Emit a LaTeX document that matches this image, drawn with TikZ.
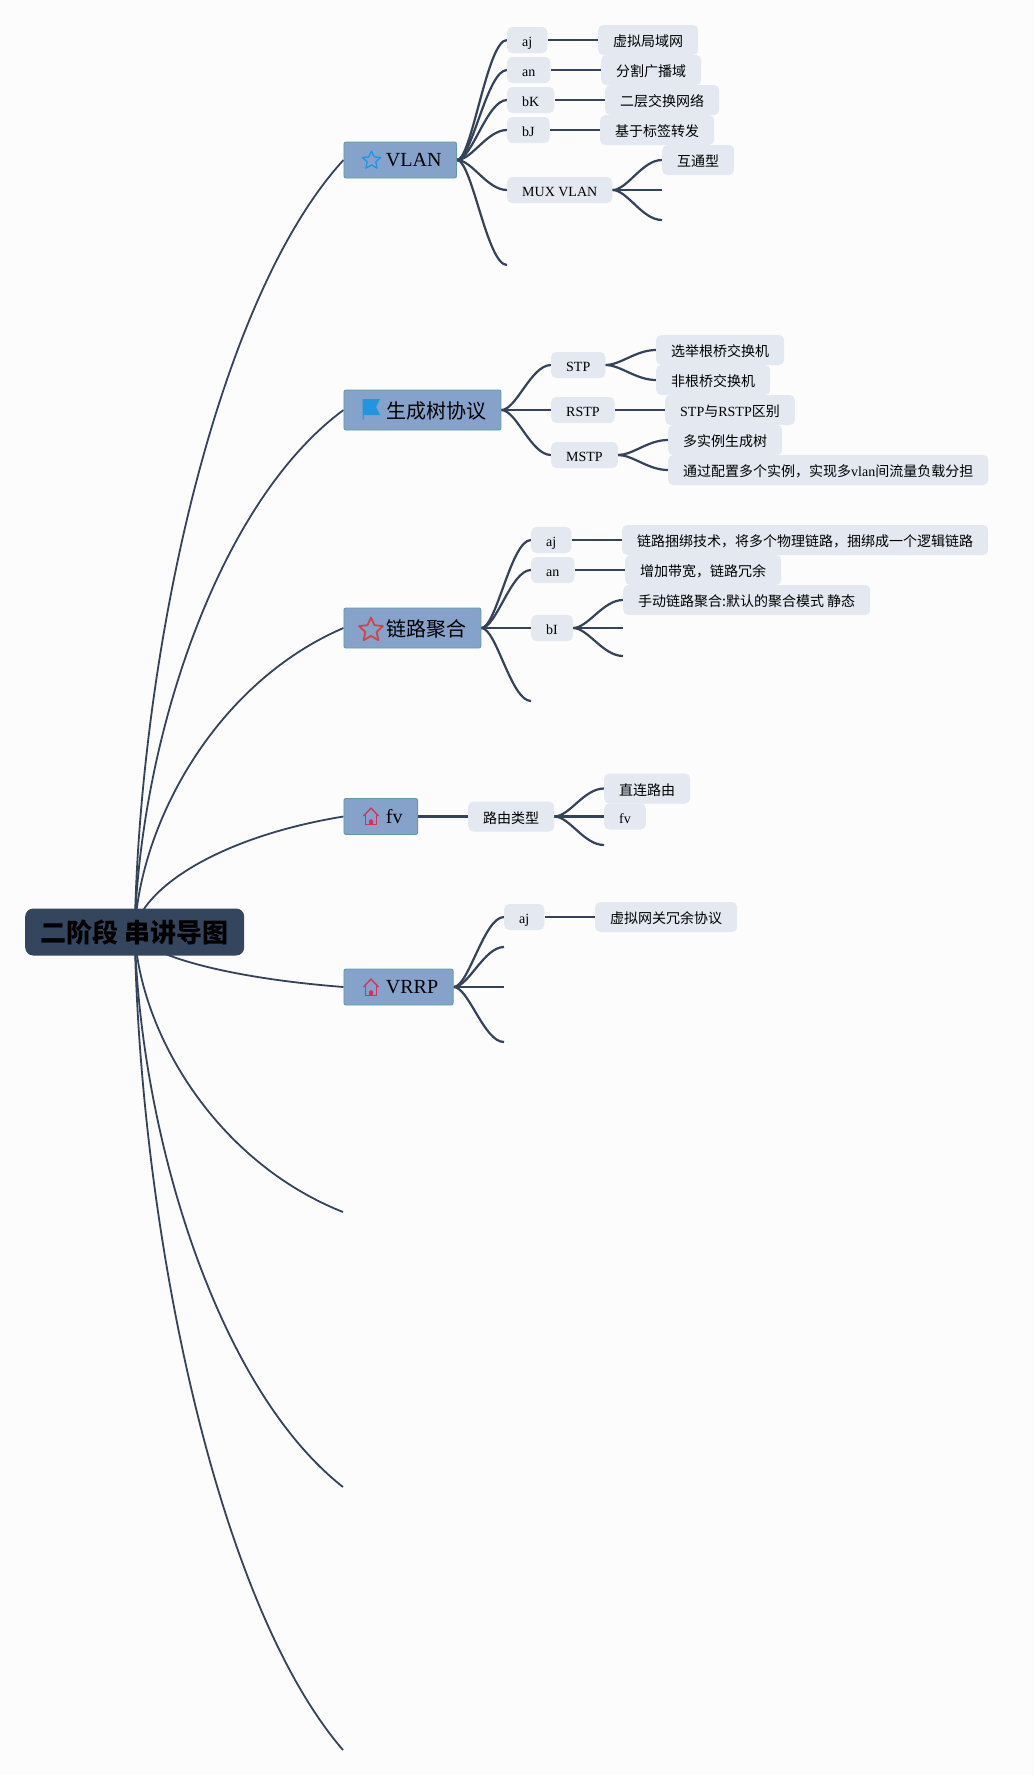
\documentclass[tikz,border=0pt]{standalone}
\usepackage{fontspec}
\setmainfont{Liberation Serif}
\newfontfamily\cjk{Noto Sans CJK SC}
\newcommand{\cn}[1]{{\cjk #1}}
\newcommand{\iconpad}{\hspace*{27pt}}
\newcommand{\cniconpad}{\hspace*{28.5pt}}
\usetikzlibrary{calc,backgrounds,shapes.geometric}
\definecolor{pagebg}{HTML}{FCFCFD}
\definecolor{rootfill}{HTML}{34465E}
\definecolor{topicfill}{HTML}{84A2CA}
\definecolor{topicedge}{HTML}{5F9EA0}
\definecolor{leaffill}{HTML}{E3E8F1}
\definecolor{linecol}{HTML}{34435A}
\definecolor{iconblue}{HTML}{1E96E0}
\definecolor{iconred}{HTML}{D9423E}
\definecolor{iconpink}{HTML}{D8305A}
\tikzset{
  rootnode/.style={fill=rootfill,rounded corners=8,inner xsep=15.5,minimum height=47,font=\cjk\bfseries\fontsize{26}{30}\selectfont,anchor=west},
  topic/.style={fill=topicfill,draw=topicedge,line width=0.9,rounded corners=2,inner xsep=15,inner ysep=0,minimum height=36,text height=15,text depth=2,font=\fontsize{20}{24}\selectfont,anchor=west},
  cntopic/.style={topic,inner xsep=14.25,minimum height=40,text height=19,text depth=2},
  leaf/.style={fill=leaffill,rounded corners=5,inner xsep=15,inner ysep=0,minimum height=30,text height=13.5,text depth=0.5,font=\fontsize{14}{17}\selectfont,anchor=west},
  tag/.style={leaf,minimum height=26},
  mainline/.style={draw=linecol,line width=1.8},
  subline/.style={draw=linecol,line width=2.2},
  bigcurve/.style={to path={let \p1=(\tikztostart),\p2=(\tikztotarget) in .. controls ({\x1+5pt},{\y1+0.36*(\y2-\y1)}) and ({\x1+0.39*(\x2-\x1)},{\y1+0.82*(\y2-\y1)}) .. (\tikztotarget)}},
  smallcurve/.style={to path={.. controls +(15,0) and +(-20,0) .. (\tikztotarget)}},
  staricon/.style={star,star points=5,star point ratio=2.1,inner sep=0,line join=round},
  homeicon/.pic={
    \draw[iconpink,line width=1.3,line join=round] (-7.5,-0.5) -- (0,-8.5) -- (7.5,-0.5);
    \draw[iconpink,line width=1.3] (-5.5,-2) -- (-5.5,8) -- (5.5,8) -- (5.5,-2);
    \fill[iconpink] (-2,8) -- (-2,4) -- (0,2.5) -- (2,4) -- (2,8) -- cycle;
  }
}
\begin{document}
\begin{tikzpicture}[x=1pt,y=-1pt]
\useasboundingbox (0,0) rectangle (1034,1775);
% root and topics
\node[rootnode] (root) at (25,932) {二阶段 串讲导图};
\node[topic] (vlan) at (343.5,160) {\iconpad VLAN};
\node[cntopic] (stp) at (343.5,410) {\cniconpad\cn{生成树协议}};
\node[cntopic] (link) at (343.5,628) {\cniconpad\cn{链路聚合}};
\node[topic] (route) at (343.5,816.5) {\iconpad fv};
\node[topic] (vrrp) at (343.5,987) {\iconpad VRRP};
\coordinate (end1) at (343,1212);
\coordinate (end2) at (343,1487);
\coordinate (end3) at (343,1750);
% icons
\node[staricon,draw=iconblue,line width=1.3,minimum size=19] (vlanstar) at (371.5,160.5) {};
\node[staricon,draw=iconred,line width=1.8,minimum size=25] (linkstar) at (371,630) {};
\fill[iconblue] (362.5,399) -- (380,399) -- (376,407) -- (380,415) -- (363.5,415) -- (363.5,419.5) -- (362.5,419.5) -- cycle;
\pic at (371,816.5) {homeicon};
\pic at (371,987.5) {homeicon};
% VLAN
\node[tag] (vlanA) at (507,40) {aj};
\node[tag] (vlanB) at (507,70) {an};
\node[tag] (vlanC) at (507,100) {bK};
\node[tag] (vlanD) at (507,130) {bJ};
\node[tag] (vlanE) at (507,190) {MUX VLAN};
\coordinate (vlanF) at (507,265);
\node[leaf] (vlanA1) at (598,40) {\cn{虚拟局域网}};
\node[leaf] (vlanB1) at (601,70) {\cn{分割广播域}};
\node[leaf] (vlanC1) at (605,100) {\cn{二层交换网络}};
\node[leaf] (vlanD1) at (600,130) {\cn{基于标签转发}};
\node[leaf] (vlanE1) at (662,160) {\cn{互通型}};
\coordinate (vlanE2) at (662,190);
\coordinate (vlanE3) at (662,220);
% spanning tree
\node[tag] (stpA) at (551,365) {STP};
\node[tag] (stpB) at (551,410) {RSTP};
\node[tag] (stpC) at (551,455) {MSTP};
\node[leaf] (stpA1) at (656,350) {\cn{选举根桥交换机}};
\node[leaf] (stpA2) at (656,380) {\cn{非根桥交换机}};
\node[leaf] (stpB1) at (665,410) {STP\cn{与}RSTP\cn{区别}};
\node[leaf] (stpC1) at (668,440) {\cn{多实例生成树}};
\node[leaf] (stpC2) at (668,470) {\cn{通过配置多个实例，实现多}vlan\cn{间流量负载分担}};
% link aggregation
\node[tag] (linkA) at (531,540) {aj};
\node[tag] (linkB) at (531,570) {an};
\node[tag] (linkC) at (531,628) {bI};
\coordinate (linkD) at (531,701);
\node[leaf] (linkA1) at (622,540) {\cn{链路捆绑技术，将多个物理链路，捆绑成一个逻辑链路}};
\node[leaf] (linkB1) at (625,570) {\cn{增加带宽，链路冗余}};
\node[leaf] (linkC1) at (623,600) {\cn{手动链路聚合:默认的聚合模式 静态}};
\coordinate (linkC2) at (623,628);
\coordinate (linkC3) at (623,656);
% routing
\node[leaf] (routeA) at (468,816.5) {\cn{路由类型}};
\node[leaf] (routeA1) at (604,788.5) {\cn{直连路由}};
\node[tag] (routeA2) at (604,816.5) {fv};
\coordinate (routeA3) at (604,845);
% VRRP
\node[tag] (vrrpA) at (504,917) {aj};
\coordinate (vrrpB) at (504,947);
\coordinate (vrrpC) at (504,987);
\coordinate (vrrpD) at (504,1042);
\node[leaf] (vrrpA1) at (595,917) {\cn{虚拟网关冗余协议}};
% connectors
\begin{scope}[on background layer]
\fill[pagebg] (0,0) rectangle (1034,1775);
\draw[mainline] (root.center) to[bigcurve] (vlan.west);
\draw[mainline] (root.center) to[bigcurve] (stp.west);
\draw[mainline] (root.center) to[bigcurve] (link.west);
\draw[mainline] (root.center) to[bigcurve] (route.west);
\draw[mainline] (root.center) to[bigcurve] (vrrp.west);
\draw[mainline] (root.center) to[bigcurve] (end1);
\draw[mainline] (root.center) to[bigcurve] (end2);
\draw[mainline] (root.center) to[bigcurve] (end3);
\draw[subline] (vlan.east) to[smallcurve] (vlanA.west);
\draw[subline] (vlan.east) to[smallcurve] (vlanB.west);
\draw[subline] (vlan.east) to[smallcurve] (vlanC.west);
\draw[subline] (vlan.east) to[smallcurve] (vlanD.west);
\draw[subline] (vlan.east) to[smallcurve] (vlanE.west);
\draw[subline] (vlan.east) to[smallcurve] (vlanF);
\draw[subline] (vlanA.east) -- (vlanA1.west);
\draw[subline] (vlanB.east) -- (vlanB1.west);
\draw[subline] (vlanC.east) -- (vlanC1.west);
\draw[subline] (vlanD.east) -- (vlanD1.west);
\draw[subline] (vlanE.east) to[smallcurve] (vlanE1.west);
\draw[subline] (vlanE.east) -- (vlanE2);
\draw[subline] (vlanE.east) to[smallcurve] (vlanE3);
\draw[subline] (stp.east) to[smallcurve] (stpA.west);
\draw[subline] (stp.east) -- (stpB.west);
\draw[subline] (stp.east) to[smallcurve] (stpC.west);
\draw[subline] (stpA.east) to[smallcurve] (stpA1.west);
\draw[subline] (stpA.east) to[smallcurve] (stpA2.west);
\draw[subline] (stpB.east) -- (stpB1.west);
\draw[subline] (stpC.east) to[smallcurve] (stpC1.west);
\draw[subline] (stpC.east) to[smallcurve] (stpC2.west);
\draw[subline] (link.east) to[smallcurve] (linkA.west);
\draw[subline] (link.east) to[smallcurve] (linkB.west);
\draw[subline] (link.east) -- (linkC.west);
\draw[subline] (link.east) to[smallcurve] (linkD);
\draw[subline] (linkA.east) -- (linkA1.west);
\draw[subline] (linkB.east) -- (linkB1.west);
\draw[subline] (linkC.east) to[smallcurve] (linkC1.west);
\draw[subline] (linkC.east) -- (linkC2);
\draw[subline] (linkC.east) to[smallcurve] (linkC3);
\draw[subline] (route.east) -- (routeA.west);
\draw[subline] (routeA.east) to[smallcurve] (routeA1.west);
\draw[subline] (routeA.east) -- (routeA2.west);
\draw[subline] (routeA.east) to[smallcurve] (routeA3);
\draw[subline] (vrrp.east) to[smallcurve] (vrrpA.west);
\draw[subline] (vrrp.east) to[smallcurve] (vrrpB);
\draw[subline] (vrrp.east) -- (vrrpC);
\draw[subline] (vrrp.east) to[smallcurve] (vrrpD);
\draw[subline] (vrrpA.east) -- (vrrpA1.west);
\end{scope}
\end{tikzpicture}
\end{document}
